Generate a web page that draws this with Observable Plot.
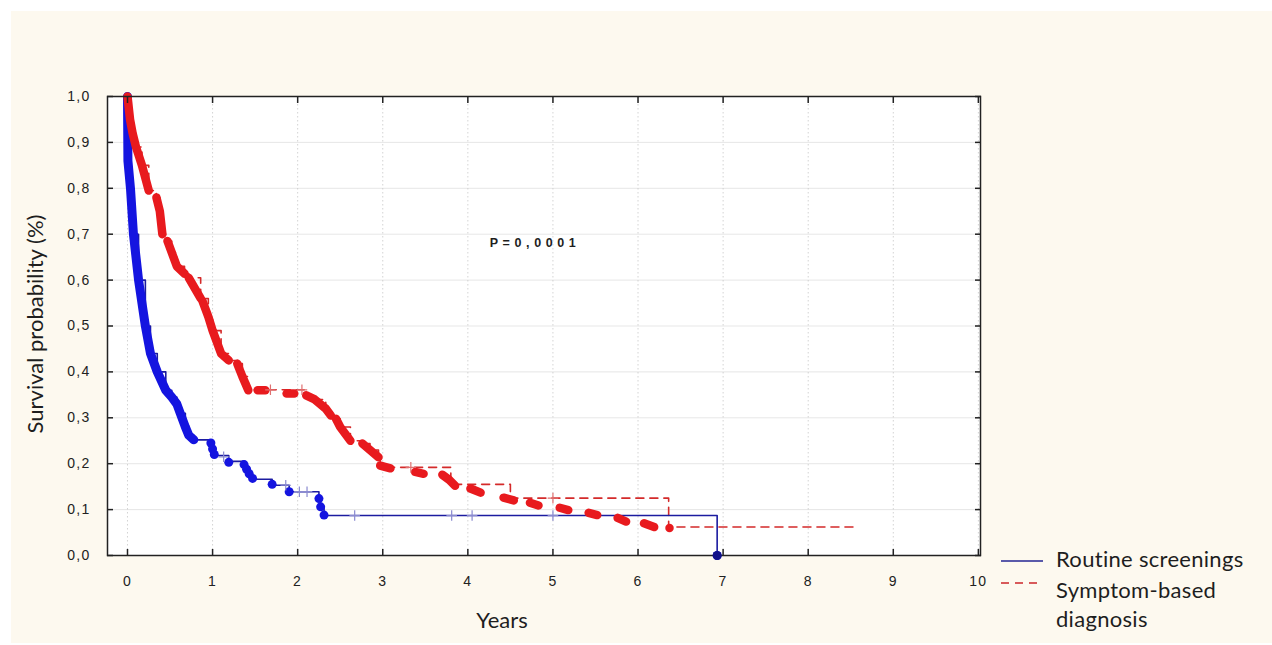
<!DOCTYPE html>
<html><head><meta charset="utf-8">
<script src="https://cdn.jsdelivr.net/npm/d3@7"></script>
<script src="https://cdn.jsdelivr.net/npm/@observablehq/plot@0.6"></script>
<style>
html,body{margin:0;padding:0;background:#fff;}
#page{position:relative;width:1272px;height:645px;overflow:hidden;background:#fff;}
#bg{position:absolute;left:11px;top:11px;width:1261px;height:632px;background:#fdf9ef;}
#chart{position:absolute;left:0;top:0;}
.km text{letter-spacing:1.3px;font-size:14px;fill:#222;}
.t{position:absolute;font-family:Lato,"Open Sans",sans-serif;color:#1e1e1e;white-space:nowrap;line-height:1;}
#ytitle{left:35px;top:324px;font-size:22px;transform:translate(-50%,-50%) rotate(-90deg);}
#xtitle{left:502px;top:620px;font-size:22px;transform:translate(-50%,-50%);}
#pval{left:535px;top:243px;transform:translate(-50%,-50%);font-family:"Liberation Sans",Arial,sans-serif;font-weight:bold;font-size:12.5px;letter-spacing:4.6px;}
.leg{font-size:22px;letter-spacing:0.3px;}
</style></head><body>
<div id="page"><div id="bg"></div><div id="chart"></div>
<div class="t" id="ytitle">Survival probability (%)</div>
<div class="t" id="xtitle">Years</div>
<div class="t" id="pval">P=0,0001</div>
<svg style="position:absolute;left:0;top:0" width="1272" height="645">
  <line x1="1001" x2="1043" y1="561" y2="561" stroke="#5a5aaa" stroke-width="2"/>
  <line x1="1001" x2="1043" y1="583" y2="583" stroke="#d85a5a" stroke-width="2" stroke-dasharray="8,6"/>
</svg>
<div class="t leg" style="left:1056px;top:548px;">Routine screenings</div>
<div class="t leg" style="left:1056px;top:579px;">Symptom-based</div>
<div class="t leg" style="left:1056px;top:608px;">diagnosis</div>
</div>
<script>
// Axis ticks and labels
const xTicks = [0,1,2,3,4,5,6,7,8,9,10];
const xTickLabels = ["0","1","2","3","4","5","6","7","8","9","10"];
const yTicks = [0,0.1,0.2,0.3,0.4,0.5,0.6,0.7,0.8,0.9,1.0];
const yTickLabels = ["0,0","0,1","0,2","0,3","0,4","0,5","0,6","0,7","0,8","0,9","1,0"];

// Routine screenings: Kaplan-Meier step curve
const blueStepT = [0,0.005,0.035,0.07,0.13,0.21,0.27,0.35,0.45,0.52,0.58,0.62,0.68,0.72,0.78,0.98,1.19,1.37,1.4,1.43,1.47,1.7,1.9,2.25,2.27,2.31,6.93];
const blueStepS = [1.0,0.86,0.8,0.7,0.6,0.5,0.44,0.4,0.36,0.345,0.33,0.31,0.28,0.262,0.252,0.218,0.205,0.198,0.188,0.178,0.166,0.153,0.139,0.124,0.106,0.087,0.0];
// Routine screenings: dense event markers (early) and single events
const blueDenseT = [0,0.005,0.035,0.07,0.13,0.21,0.27,0.35,0.45,0.52,0.58,0.62,0.68,0.72,0.78];
const blueDenseS = [1.0,0.86,0.8,0.7,0.6,0.5,0.44,0.4,0.36,0.345,0.33,0.31,0.28,0.262,0.252];
const blueEventT = [0.98,1.0,1.02,1.19,1.37,1.4,1.43,1.47,1.7,1.9,2.25,2.27,2.31,6.93];
const blueEventS = [0.245,0.232,0.22,0.203,0.198,0.188,0.178,0.168,0.155,0.139,0.124,0.106,0.088,0.0];
const blueCensT = [1.13,1.86,2.02,2.11,2.67,3.81,4.05,5.0];
const blueCensS = [0.215,0.153,0.139,0.139,0.087,0.087,0.087,0.087];

// Symptom-based diagnosis: Kaplan-Meier step curve
const redStepT = [0,0.03,0.06,0.1,0.17,0.25,0.34,0.38,0.41,0.47,0.52,0.58,0.67,0.72,0.86,0.95,1.0,1.1,1.19,1.29,1.35,1.42,2.1,2.2,2.33,2.39,2.45,2.5,2.62,2.76,2.85,2.95,2.97,3.8,4.5,6.36,8.55];
const redStepS = [1.0,0.95,0.92,0.89,0.85,0.795,0.78,0.75,0.7,0.685,0.66,0.63,0.614,0.605,0.56,0.52,0.49,0.44,0.425,0.418,0.39,0.361,0.349,0.34,0.32,0.305,0.298,0.28,0.25,0.244,0.23,0.214,0.192,0.155,0.125,0.062,0.062];
// Symptom-based diagnosis: event marker runs (group id, time, survival)
const redEventGroup = [1,1,1,1,1,1, 2,2,2, 3,3,3,3, 4,4, 5,5,5,5,5, 6,6,6, 7,7, 8,8, 9,9,9,9, 10,10,10, 11,11,11, 12,12, 13,13, 14,14,14, 15,15, 16,16, 17,17, 18,18, 19,19, 20,20, 21,21, 22];
const redEventT = [0,0.03,0.06,0.1,0.17,0.25, 0.34,0.38,0.41, 0.47,0.52,0.58,0.67, 0.72,0.86, 0.88,0.95,1.0,1.1,1.19, 1.29,1.35,1.42, 1.53,1.62, 1.87,1.96, 2.1,2.2,2.33,2.39, 2.45,2.5,2.62, 2.76,2.85,2.95, 2.97,3.09, 3.38,3.48, 3.7,3.78,3.85, 4.03,4.15, 4.42,4.54, 4.73,4.83, 5.08,5.18, 5.42,5.52, 5.76,5.86, 6.07,6.19, 6.37];
const redEventS = [1.0,0.95,0.92,0.89,0.85,0.795, 0.78,0.75,0.7, 0.685,0.66,0.63,0.614, 0.605,0.56, 0.555,0.52,0.49,0.44,0.425, 0.418,0.39,0.36, 0.36,0.36, 0.353,0.353, 0.349,0.34,0.32,0.305, 0.298,0.28,0.25, 0.244,0.23,0.214, 0.196,0.19, 0.182,0.178, 0.176,0.165,0.152, 0.146,0.137, 0.126,0.12, 0.115,0.109, 0.104,0.099, 0.093,0.088, 0.082,0.074, 0.07,0.062, 0.06];
const redCensT = [1.68,2.05,3.33,5.0];
const redCensS = [0.361,0.361,0.192,0.125];

const zipTS = (T, S, extra) => T.map((t, i) => ({t, s: S[i], ...(extra ? {g: extra[i]} : {})}));
const blueStep = zipTS(blueStepT, blueStepS);
const blueDense = zipTS(blueDenseT, blueDenseS);
const blueEvents = zipTS(blueEventT, blueEventS);
const blueCens = zipTS(blueCensT, blueCensS);
const redStep = zipTS(redStepT, redStepS);
const redEvents = zipTS(redEventT, redEventS, redEventGroup);
const redCens = zipTS(redCensT, redCensS);

const BLUE = "#1414e0", BLUE_LINE = "#1c1ca0", RED = "#e81a1e", RED_LINE = "#d42a2a";
const grid = {stroke: "#c8c8c8", strokeOpacity: 0.8, strokeDasharray: "1.5,2.5", strokeWidth: 1};

const chart = Plot.plot({
  width: 1000, height: 600,
  marginLeft: 107, marginRight: 20, marginTop: 96, marginBottom: 45,
  className: "km",
  style: {background: "transparent", fontFamily: "'Liberation Sans', Arial, sans-serif", fontSize: "14px", color: "#222"},
  x: {domain: [-0.235, 10.025]},
  y: {domain: [0, 1]},
  marks: [
    Plot.frame({fill: "white", stroke: "none"}),
    Plot.gridX(xTicks, grid),
    Plot.gridY(yTicks, {...grid, strokeDasharray: null, strokeOpacity: 0.45}),
    Plot.line(redStep, {x: "t", y: "s", curve: "step-after", stroke: RED_LINE, strokeWidth: 1.6, strokeDasharray: "8,6"}),
    Plot.line(blueStep, {x: "t", y: "s", curve: "step-after", stroke: BLUE_LINE, strokeWidth: 1.6}),
    Plot.line(blueDense, {x: "t", y: "s", stroke: BLUE, strokeWidth: 9, strokeLinecap: "round", strokeLinejoin: "round"}),
    Plot.dot(blueEvents, {x: "t", y: "s", r: 4.5, fill: BLUE}),
    Plot.line(redEvents, {x: "t", y: "s", z: "g", stroke: RED, strokeWidth: 8.5, strokeLinecap: "round", strokeLinejoin: "round"}),
    Plot.dot(blueCens, {x: "t", y: "s", symbol: "plus", r: 3.5, stroke: "#8a8ad0", strokeWidth: 1.2}),
    Plot.dot(redCens, {x: "t", y: "s", symbol: "plus", r: 3.5, stroke: "#e07070", strokeWidth: 1.2}),
    Plot.frame({stroke: "#222", strokeWidth: 1.5}),
    Plot.axisX(xTicks, {anchor: "bottom", tickSize: -6, tickPadding: 27, strokeWidth: 1.5, tickFormat: d => xTickLabels[xTicks.indexOf(d)], label: null}),
    Plot.axisX(xTicks, {anchor: "top", tickSize: -6, strokeWidth: 1.5, tickFormat: () => "", label: null}),
    Plot.axisY(yTicks, {anchor: "left", tickSize: -6, tickPadding: 23, strokeWidth: 1.5, tickFormat: d => yTickLabels[yTicks.indexOf(d)], label: null}),
    Plot.axisY(yTicks, {anchor: "right", tickSize: -6, strokeWidth: 1.5, tickFormat: () => "", label: null}),
    Plot.dot(blueEvents.slice(-1), {x: "t", y: "s", r: 4.5, fill: "#10108a"})
  ]
});
document.getElementById("chart").appendChild(chart);
</script>
</body></html>
